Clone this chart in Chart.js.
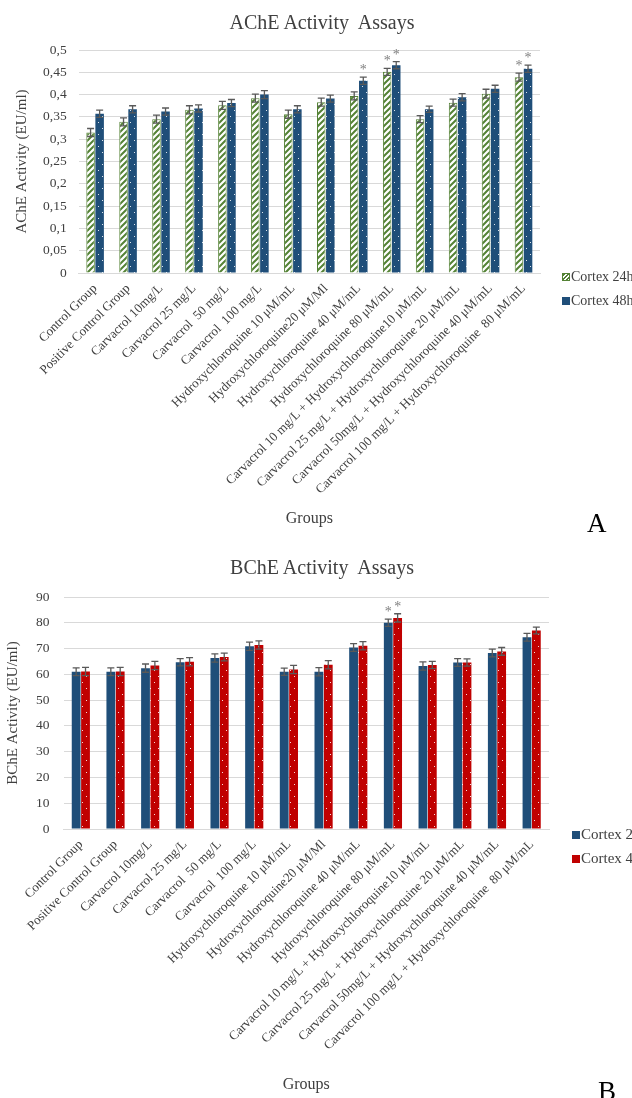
<!DOCTYPE html>
<html lang="en">
<head>
    <meta charset="UTF-8">
    <title>AChE / BChE Activity Assays</title>
    <script src="https://cdn.jsdelivr.net/npm/chart.js"></script>
    <style>
        body { margin: 0; background: #fff; font-family: "Liberation Serif", serif; }
        #page { position: relative; width: 632px; height: 1098px; overflow: hidden; }
        .panel { position: absolute; left: 0; width: 632px; }
        .title { position: absolute; font-size: 20px; color: #404040; white-space: pre; transform: translateX(-50%); line-height: 24px; }
        .legend { position: absolute; font-size: 14px; color: #404040; white-space: nowrap; }
        .legend div { height: 24px; line-height: 24px; }
        .sw { display: inline-block; width: 8px; height: 8px; margin-right: 1px; vertical-align: 0px; }
        .letter { position: absolute; font-size: 27px; color: #000; line-height: 30px; }
    </style>
</head>
<body>
<div id="page">
    <div class="panel" style="top:0; height:548px;"><canvas id="acheChart" width="632" height="548"></canvas></div>
    <div class="panel" style="top:548px; height:550px;"><canvas id="bcheChart" width="632" height="550"></canvas></div>

    <div class="title" style="left:322px; top:10px;">AChE Activity  Assays</div>
    <div class="title" style="left:322px; top:555px;">BChE Activity  Assays</div>

    <!-- legends -->
    <div class="legend" style="left:562px; top:265px;">
        <div><span class="sw" style="border:1px solid #548235; width:6px; height:6px; background:repeating-linear-gradient(135deg,#548235 0 1.5px,#fff 1.5px 3px);"></span>Cortex 24h</div>
        <div><span class="sw" style="background:#1f4e79;"></span>Cortex 48h</div>
    </div>
    <div class="legend" style="left:572px; top:822px; font-size:15px;">
        <div><span class="sw" style="background:#1f4e79;"></span>Cortex 24h</div>
        <div><span class="sw" style="background:#c00000;"></span>Cortex 48h</div>
    </div>
    <div class="letter" style="left:587px; top:508px;">A</div>
    <div class="letter" style="left:598px; top:1076px;">B</div>
</div>

<script>
    // Groups (x categories)
    const groups = [
        "Control Group",
        "Positive Control Group",
        "Carvacrol 10mg/L",
        "Carvacrol 25 mg/L",
        "Carvacrol  50 mg/L",
        "Carvacrol  100 mg/L",
        "Hydroxychloroquine 10 μM/mL",
        "Hydroxychloroquine20 μM/Ml",
        "Hydroxychloroquine 40 μM/mL",
        "Hydroxychloroquine 80 μM/mL",
        "Carvacrol 10 mg/L + Hydroxychloroquine10 μM/mL",
        "Carvacrol 25 mg/L + Hydroxychloroquine 20 μM/mL",
        "Carvacrol 50mg/L + Hydroxychloroquine 40 μM/mL",
        "Carvacrol 100 mg/L + Hydroxychloroquine  80 μM/mL"
    ];

    // AChE (EU/ml)
    const acheCortex24 = [0.315, 0.339, 0.345, 0.366, 0.376, 0.392, 0.356, 0.383, 0.397, 0.451, 0.345, 0.382, 0.402, 0.439];
    const acheCortex48 = [0.357, 0.367, 0.362, 0.369, 0.381, 0.400, 0.367, 0.391, 0.431, 0.466, 0.367, 0.394, 0.413, 0.458];
    const acheErr24 = [0.009, 0.009, 0.009, 0.009, 0.009, 0.009, 0.009, 0.009, 0.009, 0.008, 0.008, 0.008, 0.010, 0.009];
    const acheErr48 = [0.008, 0.008, 0.008, 0.008, 0.008, 0.009, 0.008, 0.008, 0.008, 0.008, 0.007, 0.008, 0.008, 0.008];
    const acheStar24 = [9, 13];
    const acheStar48 = [8, 9, 13];

    // BChE (EU/ml)
    const bcheCortex24 = [61.0, 61.0, 62.4, 64.7, 66.3, 70.9, 61.0, 61.0, 70.4, 80.0, 63.2, 64.6, 68.3, 74.4];
    const bcheCortex48 = [61.1, 61.1, 63.4, 64.9, 66.7, 71.4, 61.9, 63.7, 71.1, 81.9, 63.6, 64.6, 68.9, 77.0];
    const bcheErr24 = [1.5, 1.5, 1.6, 1.4, 1.6, 1.6, 1.4, 1.6, 1.5, 1.4, 1.6, 1.5, 1.5, 1.5];
    const bcheErr48 = [1.6, 1.6, 1.6, 1.6, 1.5, 1.6, 1.6, 1.6, 1.6, 1.6, 1.4, 1.4, 1.5, 1.3];
    const bcheStar24 = [9];
    const bcheStar48 = [9];

    const serif = '"Liberation Serif", "Times New Roman", serif';

    // Fill patterns
    function stripes(color) {
        const c = document.createElement('canvas');
        c.width = 6; c.height = 6;
        const x = c.getContext('2d');
        x.fillStyle = '#fff';
        x.fillRect(0, 0, 6, 6);
        x.strokeStyle = color;
        x.lineWidth = 2;
        x.beginPath();
        x.moveTo(-1, 7); x.lineTo(7, -1);
        x.moveTo(-4, 4); x.lineTo(4, -4);
        x.moveTo(2, 10); x.lineTo(10, 2);
        x.stroke();
        return x.createPattern(c, 'repeat');
    }
    function dots(color) {
        const c = document.createElement('canvas');
        c.width = 8; c.height = 12;
        const x = c.getContext('2d');
        x.fillStyle = color;
        x.fillRect(0, 0, 8, 12);
        x.fillStyle = 'rgba(255,255,255,0.85)';
        x.fillRect(2, 2, 1, 1);
        x.fillRect(6, 8, 1, 1);
        return x.createPattern(c, 'repeat');
    }

    // Error bars and significance stars
    const errorBars = {
        id: 'errorBars',
        afterDatasetsDraw(chart, args, opts) {
            const ctx = chart.ctx;
            const y = chart.scales.y;
            chart.data.datasets.forEach((ds, i) => {
                const meta = chart.getDatasetMeta(i);
                meta.data.forEach((bar, j) => {
                    const v = ds.data[j];
                    const e = opts.errors[i][j];
                    const top = y.getPixelForValue(v + e);
                    const bot = y.getPixelForValue(v - e);
                    ctx.save();
                    ctx.strokeStyle = '#595959';
                    ctx.lineWidth = 1.3;
                    ctx.beginPath();
                    ctx.moveTo(bar.x, top); ctx.lineTo(bar.x, bot);
                    ctx.moveTo(bar.x - 3.5, top); ctx.lineTo(bar.x + 3.5, top);
                    ctx.moveTo(bar.x - 3.5, bot); ctx.lineTo(bar.x + 3.5, bot);
                    ctx.stroke();
                    if (opts.stars[i].includes(j)) {
                        ctx.fillStyle = '#808080';
                        ctx.font = '14px ' + serif;
                        ctx.textAlign = 'center';
                        ctx.fillText('*', bar.x, top - 3);
                    }
                    ctx.restore();
                });
            });
        }
    };

    function commaTick(value) {
        return String(Math.round(value * 100) / 100).replace('.', ',');
    }

    function makeChart(id, cfg) {
        const ctx = document.getElementById(id).getContext('2d');
        return new Chart(ctx, {
            type: 'bar',
            data: {
                labels: groups,
                datasets: cfg.datasets
            },
            plugins: [errorBars],
            options: {
                responsive: false,
                animation: false,
                layout: { padding: cfg.padding },
                plugins: {
                    legend: { display: false },
                    tooltip: { enabled: false },
                    title: { display: false },
                    errorBars: { errors: cfg.errors, stars: cfg.stars }
                },
                scales: {
                    x: {
                        // fixed height so the long rotated labels don't squeeze the plot
                        afterFit: function (scale) { scale.height = cfg.xAxisHeight; },
                        grid: { display: false, drawTicks: false },
                        border: { color: '#d9d9d9' },
                        ticks: {
                            color: '#404040',
                            font: { family: serif, size: 13 },
                            minRotation: 45,
                            maxRotation: 45,
                            autoSkip: false,
                            padding: 8
                        },
                        title: {
                            display: true,
                            text: 'Groups',
                            color: '#404040',
                            font: { family: serif, size: 16 },
                            padding: { top: 4, bottom: 0 }
                        }
                    },
                    y: {
                        min: cfg.min,
                        max: cfg.max,
                        grid: { color: '#d9d9d9', drawTicks: false },
                        border: { display: false },
                        ticks: {
                            stepSize: cfg.step,
                            color: '#404040',
                            font: { family: serif, size: 13.5 },
                            padding: cfg.tickPad,
                            callback: commaTick
                        },
                        title: {
                            display: true,
                            text: cfg.yTitle,
                            color: '#404040',
                            font: { family: serif, size: 15 },
                            padding: { top: cfg.yTitlePad, bottom: 0 }
                        }
                    }
                }
            }
        });
    }

    document.addEventListener("DOMContentLoaded", function () {
        makeChart('acheChart', {
            yTitle: 'AChE Activity (EU/ml)',
            min: 0, max: 0.5, step: 0.05,
            padding: { left: 9, right: 92, top: 50, bottom: 20 },
            xAxisHeight: 255,
            tickPad: 12,
            yTitlePad: 4,
            errors: [acheErr24, acheErr48],
            stars: [acheStar24, acheStar48],
            datasets: [
                {
                    label: 'Cortex 24h',
                    data: acheCortex24,
                    backgroundColor: stripes('#548235'),
                    borderColor: '#548235',
                    borderWidth: 1,
                    categoryPercentage: 0.55,
                    barPercentage: 0.94
                },
                {
                    label: 'Cortex 48h',
                    data: acheCortex48,
                    backgroundColor: dots('#1f4e79'),
                    borderColor: '#1f4e79',
                    borderWidth: 0,
                    categoryPercentage: 0.55,
                    barPercentage: 0.94
                }
            ]
        });

        makeChart('bcheChart', {
            yTitle: 'BChE Activity (EU/ml)',
            min: 0, max: 90, step: 10,
            padding: { left: 2, right: 83, top: 49, bottom: 4 },
            xAxisHeight: 265,
            tickPad: 14,
            yTitlePad: 2,
            errors: [bcheErr24, bcheErr48],
            stars: [bcheStar24, bcheStar48],
            datasets: [
                {
                    label: 'Cortex 24h',
                    data: bcheCortex24,
                    backgroundColor: '#1f4e79',
                    borderWidth: 0,
                    categoryPercentage: 0.54,
                    barPercentage: 0.94
                },
                {
                    label: 'Cortex 48h',
                    data: bcheCortex48,
                    backgroundColor: dots('#c00000'),
                    borderWidth: 0,
                    categoryPercentage: 0.54,
                    barPercentage: 0.94
                }
            ]
        });
    });
</script>
</body>
</html>
